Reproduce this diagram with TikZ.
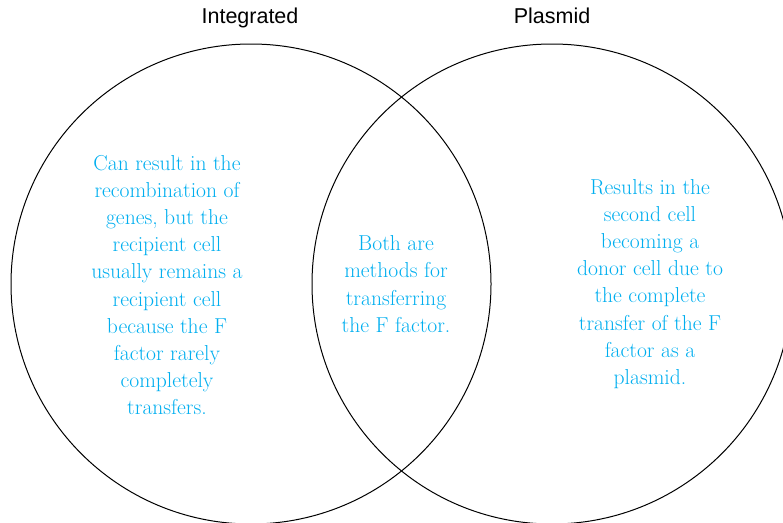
\documentclass[tikz,border=0pt]{standalone}
\usepackage{fontspec}
\newfontfamily\headfont{Liberation Sans}
\usepackage{xcolor}
\usepackage{tikz}
\usetikzlibrary{positioning}
\definecolor{notecyan}{RGB}{0,174,239}

\begin{document}
\begin{tikzpicture}[
    x=1pt, y=-1pt,
    ring/.style={circle, draw=black, line width=1pt, minimum size=480pt, inner sep=0pt},
    heading/.style={font=\headfont\fontsize{21.5}{26}\selectfont, inner sep=0pt, anchor=base},
    note/.style={text=notecyan, align=center, inner sep=0pt, font=\rmfamily\fontsize{21.6}{27.2}\selectfont}
]
    \useasboundingbox (0,0) rectangle (783,522);

    % the two sets
    \node[ring] (integ) at (251,284) {};
    \node[ring] (plasmid) at (552,284) {};
    \node[heading] (integlbl) at (250,23) {Integrated};
    \node[heading] (plasmidlbl) at (552,23) {Plasmid};

    % texts
    \node[note] (integtxt) at (167,285) {Can result in the\\recombination of\\genes, but the\\recipient cell\\usually remains a\\recipient cell\\because the F\\factor rarely\\completely\\transfers.};
    \node[note] (bothtxt) at (396,284) {Both are\\methods for\\transferring\\the F factor.};
    \node[note] (plasmidtxt) at (650,284) {Results in the\\second cell\\becoming a\\donor cell due to\\the complete\\transfer of the F\\factor as a\\plasmid.};
\end{tikzpicture}
\end{document}
